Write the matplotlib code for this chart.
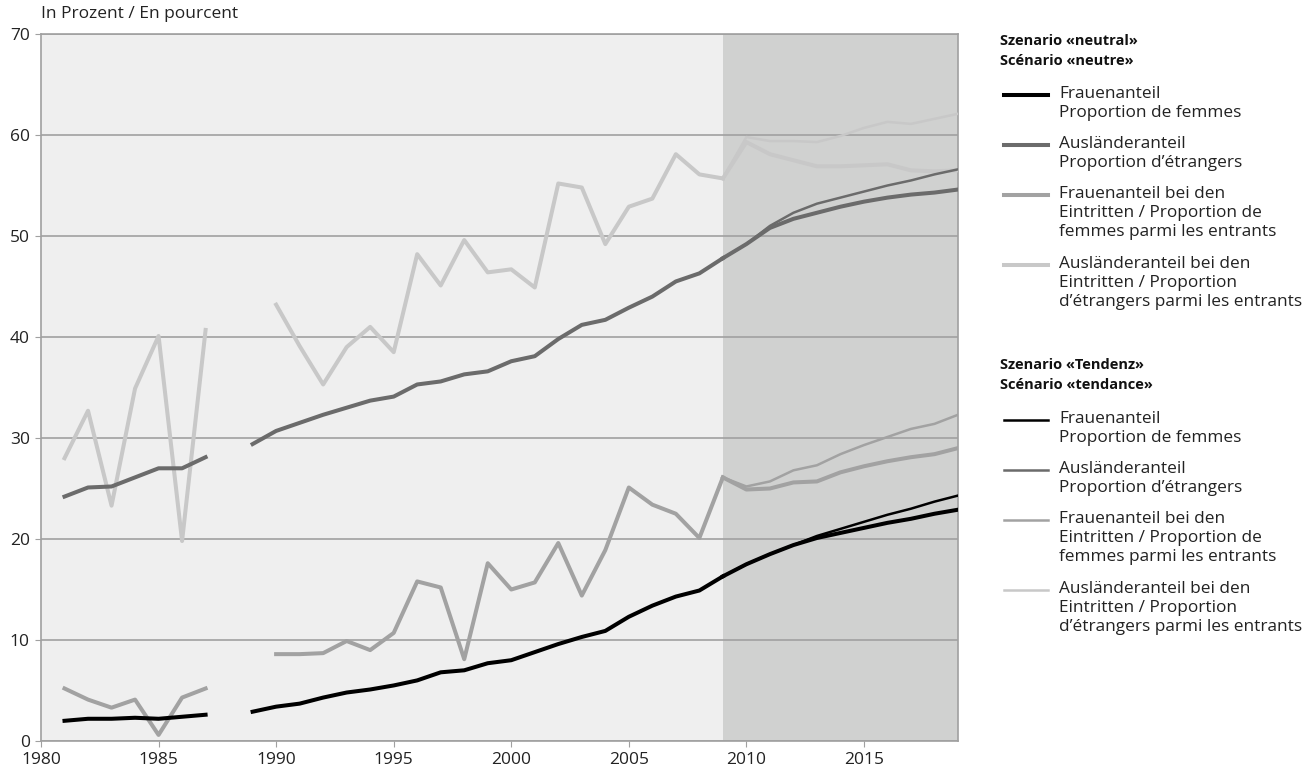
import numpy as np
import matplotlib
matplotlib.use("Agg")
import matplotlib.pyplot as plt
from matplotlib.lines import Line2D

plt.rcParams["font.family"] = ["Open Sans", "DejaVu Sans"]

# historical data 1981-2009 (1988 missing)
years_hist = list(range(1981, 2010))
nan = np.nan
frauen = [2.0, 2.2, 2.2, 2.3, 2.2, 2.4, 2.6, nan, 2.9, 3.4, 3.7, 4.3, 4.8, 5.1, 5.5,
          6.0, 6.8, 7.0, 7.7, 8.0, 8.8, 9.6, 10.3, 10.9, 12.3, 13.4, 14.3, 14.9, 16.3]
auslaender = [24.2, 25.1, 25.2, 26.1, 27.0, 27.0, 28.1, nan, 29.4, 30.7, 31.5, 32.3, 33.0, 33.7, 34.1,
              35.3, 35.6, 36.3, 36.6, 37.6, 38.1, 39.8, 41.2, 41.7, 42.9, 44.0, 45.5, 46.3, 47.8]
frauen_eintritte = [5.2, 4.1, 3.3, 4.1, 0.6, 4.3, 5.2, nan, nan, 8.6, 8.6, 8.7, 9.9, 9.0, 10.7,
                    15.8, 15.2, 8.1, 17.6, 15.0, 15.7, 19.6, 14.4, 18.9, 25.1, 23.4, 22.5, 20.1, 26.1]
auslaender_eintritte = [28.0, 32.7, 23.3, 34.9, 40.1, 19.8, 40.7, nan, nan, 43.2, 39.1, 35.3, 39.0, 41.0, 38.5,
                        48.2, 45.1, 49.6, 46.4, 46.7, 44.9, 55.2, 54.8, 49.2, 52.9, 53.7, 58.1, 56.1, 55.7]

# projections 2009-2019
years_proj = list(range(2009, 2020))
neutral_frauen = [16.3, 17.5, 18.5, 19.4, 20.1, 20.6, 21.1, 21.6, 22.0, 22.5, 22.9]
neutral_auslaender = [47.8, 49.2, 50.8, 51.7, 52.3, 52.9, 53.4, 53.8, 54.1, 54.3, 54.6]
neutral_frauen_eintritte = [26.1, 24.9, 25.0, 25.6, 25.7, 26.6, 27.2, 27.7, 28.1, 28.4, 29.0]
neutral_auslaender_eintritte = [55.7, 59.3, 58.1, 57.5, 56.9, 56.9, 57.0, 57.1, 56.5, 56.4, 56.5]

tendenz_frauen = [16.3, 17.5, 18.5, 19.4, 20.3, 21.0, 21.7, 22.4, 23.0, 23.7, 24.3]
tendenz_auslaender = [47.8, 49.2, 51.0, 52.3, 53.2, 53.8, 54.4, 55.0, 55.5, 56.1, 56.6]
tendenz_frauen_eintritte = [26.1, 25.2, 25.7, 26.8, 27.3, 28.4, 29.3, 30.1, 30.9, 31.4, 32.3]
tendenz_auslaender_eintritte = [55.7, 59.8, 59.4, 59.4, 59.3, 59.9, 60.7, 61.3, 61.1, 61.6, 62.1]

colors = ["#000000", "#6b6b6b", "#a2a2a2", "#c8c8c8"]
labels = [
    "Frauenanteil\nProportion de femmes",
    "Ausländeranteil\nProportion d’étrangers",
    "Frauenanteil bei den\nEintritten / Proportion de\nfemmes parmi les entrants",
    "Ausländeranteil bei den\nEintritten / Proportion\nd’étrangers parmi les entrants",
]

THICK = 2.9
THIN = 1.8

fig = plt.figure(figsize=(13.14, 7.82), dpi=100)
ax = fig.add_axes([41 / 1314, 1 - 741 / 782, (958 - 41) / 1314, (741 - 34) / 782])

ax.set_facecolor("#efefef")
ax.axvspan(2009, 2019, color="#d0d1d0", zorder=0, lw=0)

hist = [frauen, auslaender, frauen_eintritte, auslaender_eintritte]
neutral = [neutral_frauen, neutral_auslaender, neutral_frauen_eintritte, neutral_auslaender_eintritte]
tendenz = [tendenz_frauen, tendenz_auslaender, tendenz_frauen_eintritte, tendenz_auslaender_eintritte]

order = [3, 2, 1, 0]
for i in order:
    ax.plot(years_hist, hist[i], color=colors[i], lw=THICK, zorder=3 + (3 - i))
for i in order:
    ax.plot(years_proj, tendenz[i], color=colors[i], lw=THIN, zorder=3 + (3 - i))
    ax.plot(years_proj, neutral[i], color=colors[i], lw=THICK, zorder=3 + (3 - i))

ax.set_xlim(1980, 2019)
ax.set_ylim(0, 70)
ax.set_xticks(range(1980, 2019, 5))
ax.set_yticks(range(0, 71, 10))
ax.tick_params(axis="both", direction="out", length=4, color="#a0a0a0", labelsize=12.5,
               labelcolor="#222222", pad=4)
ax.grid(axis="y", color="#a0a0a0", lw=1.2)
ax.set_axisbelow("line")
for side in ["left", "bottom", "right", "top"]:
    ax.spines[side].set_color("#a0a0a0")
    ax.spines[side].set_linewidth(1.2)

fig.text(41 / 1314, 1 - 14 / 782, "In Prozent / En pourcent", fontsize=12.5,
         color="#222222", va="center", ha="left")

# legend drawn by hand on the right
def px(x, y):
    return x / 1314, 1 - y / 782


def legend_block(title, top, lw, rows):
    fig.text(*px(1000, top), title, fontsize=10.5, fontweight="bold", va="top",
             ha="left", linespacing=1.55, color="#111111")
    for color, label, y in zip(colors, labels, rows):
        x0, yy = px(1004, y)
        x1, _ = px(1048, y)
        fig.add_artist(Line2D([x0, x1], [yy, yy], color=color, lw=lw,
                              transform=fig.transFigure))
        fig.text(*px(1059, y - 9), label, fontsize=12.4, va="top", ha="left",
                 linespacing=1.25, color="#222222")


legend_block("Szenario «neutral»\nScénario «neutre»", 34, THICK, [95, 145, 195, 265])
legend_block("Szenario «Tendenz»\nScénario «tendance»", 358, THIN, [420, 470, 520, 590])

fig.savefig("out.png", dpi=100, facecolor="white")
